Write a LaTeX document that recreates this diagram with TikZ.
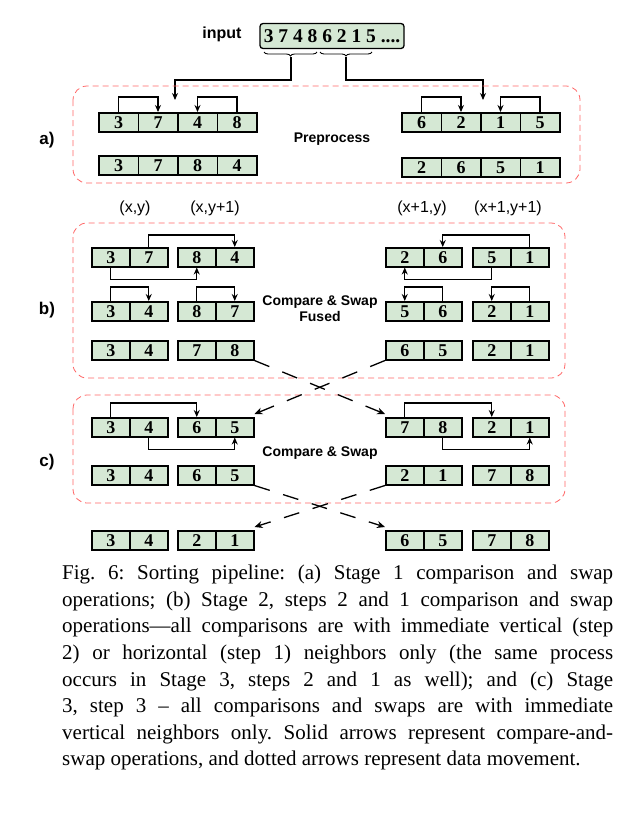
\documentclass[tikz,border=0pt]{standalone}
\usepackage{fontspec}
\setmainfont{Liberation Serif}
\newfontfamily\sansf{Liberation Sans}
\usetikzlibrary{decorations.pathreplacing,arrows.meta}
\definecolor{cellg}{HTML}{D5E8D4}
\definecolor{boxr}{HTML}{FF6666}
\frenchspacing
\tikzset{
 cell/.style={draw,fill=cellg,line width=1.5pt,inner sep=0,minimum height=19,anchor=north west,font=\fontsize{18}{18}\selectfont\bfseries},
 arr/.style={line width=1.1pt,-{Stealth[length=7pt,width=6pt]}},
 grp/.style={draw=boxr,dash pattern=on 6pt off 4pt,line width=0.8pt,rounded corners=14pt},
 lab/.style={font=\sansf\fontsize{14}{14}\selectfont\bfseries},
 coord/.style={font=\sansf\fontsize{16}{16}\selectfont},
 side/.style={font=\sansf\fontsize{17}{17}\selectfont\bfseries},
 mv/.style={line width=1.3pt,dash pattern=on 16pt off 14pt,-{Stealth[length=8pt,width=7pt]}},
}
\newcommand\mkrow[5]{\foreach \v [count=\i] in {#5}{\node[cell,minimum width=#4] (#1-\i) at ({#2+(\i-1)*#4},#3) {\v};}}
\begin{document}
\begin{tikzpicture}[x=1pt,y=-1pt]
\useasboundingbox (0,0) rectangle (643,828);
% input
\node[font=\sansf\fontsize{16}{16}\selectfont\bfseries] (inlab) at (222,34) {input};
\node[draw,line width=1.3pt,rounded corners=3pt,fill=cellg,minimum width=144,minimum height=25,inner sep=0,font=\fontsize{19.5}{19.5}\selectfont\bfseries] (inp) at (332,36) {3 7 4 8 6 2 1 5 ....};
\coordinate (bl1) at (264,52); \coordinate (bl2) at (317,52);
\coordinate (br1) at (320,52); \coordinate (br2) at (372,52);
\draw[decorate,decoration={brace,mirror,amplitude=4pt},line width=0.9pt] (bl1) -- (bl2);
\draw[decorate,decoration={brace,mirror,amplitude=4pt},line width=0.9pt] (br1) -- (br2);
\coordinate (tl) at (291,57); \coordinate (tr) at (346,57);
\coordinate (el) at (175,100); \coordinate (er) at (483,100);
\draw[arr] (tl) -- (291,80) -| (el);
\draw[arr] (tr) -- (346,80) -| (er);
% a
\draw[grp] (73,86) rectangle (580,183);
\node[side] (la) at (47,140) {a)};
\node[lab] (pre) at (332,139) {Preprocess};
\mkrow{a1}{98}{112}{39.5}{3,7,4,8}
\mkrow{a2}{98}{155}{39.5}{3,7,8,4}
\mkrow{a3}{401}{112}{39.5}{6,2,1,5}
\mkrow{a4}{401}{157}{39.5}{2,6,5,1}
\draw[arr] (a1-1.north) -- ++(0,-15) -| (a1-2.north);
\draw[arr] (a1-4.north) -- ++(0,-15) -| (a1-3.north);
\draw[arr] (a3-1.north) -- ++(0,-15) -| (a3-2.north);
\draw[arr] (a3-4.north) -- ++(0,-15) -| (a3-3.north);
% b
\node[coord] (c1) at (135,208) {(x,y)};
\node[coord] (c2) at (215,208) {(x,y+1)};
\node[coord] (c3) at (422,208) {(x+1,y)};
\node[coord] (c4) at (508,208) {(x+1,y+1)};
\draw[grp] (73,223) rectangle (565,378);
\node[side] (lb) at (47,310) {b)};
\node[lab,align=center] (cf) at (320,309) {Compare \& Swap\\[2pt]Fused};
\mkrow{b1}{91}{247}{38}{3,7}
\mkrow{b2}{177}{247}{38}{8,4}
\mkrow{b3}{385}{247}{38}{2,6}
\mkrow{b4}{472}{247}{38}{5,1}
\mkrow{b5}{91}{301}{38}{3,4}
\mkrow{b6}{177}{301}{38}{8,7}
\mkrow{b7}{385}{301}{38}{5,6}
\mkrow{b8}{472}{301}{38}{2,1}
\mkrow{b9}{91}{340}{38}{3,4}
\mkrow{b10}{177}{340}{38}{7,8}
\mkrow{b11}{385}{340}{38}{6,5}
\mkrow{b12}{472}{340}{38}{2,1}
\draw[arr] (b1-2.north) -- ++(0,-12) -| (b2-2.north);
\draw[arr] (b1-1.south) -- ++(0,12) -| (b2-1.south);
\draw[arr] (b4-2.north) -- ++(0,-12) -| (b3-2.north);
\draw[arr] (b4-1.south) -- ++(0,12) -| (b3-1.south);
\draw[arr] (b5-1.north) -- ++(0,-14) -| (b5-2.north);
\draw[arr] (b6-1.north) -- ++(0,-14) -| (b6-2.north);
\draw[arr] (b7-2.north) -- ++(0,-14) -| (b7-1.north);
\draw[arr] (b8-2.north) -- ++(0,-14) -| (b8-1.north);
% c
\draw[grp] (73,395) rectangle (565,503);
\node[side] (lc) at (47,462) {c)};
\node[lab] (cs) at (320,453) {Compare \& Swap};
\mkrow{c1}{91}{417}{38}{3,4}
\mkrow{c2}{177}{417}{38}{6,5}
\mkrow{c3}{385}{417}{38}{7,8}
\mkrow{c4}{472}{417}{38}{2,1}
\mkrow{c5}{91}{465}{38}{3,4}
\mkrow{c6}{177}{465}{38}{6,5}
\mkrow{c7}{385}{465}{38}{2,1}
\mkrow{c8}{472}{465}{38}{7,8}
\mkrow{d1}{91}{530}{38}{3,4}
\mkrow{d2}{177}{530}{38}{2,1}
\mkrow{d3}{385}{530}{38}{6,5}
\mkrow{d4}{472}{530}{38}{7,8}
\draw[arr] (c1-1.north) -- ++(0,-14) -| (c2-1.north);
\draw[arr] (c1-2.south) -- ++(0,12) -| (c2-2.south);
\draw[arr] (c3-1.north) -- ++(0,-14) -| (c4-1.north);
\draw[arr] (c3-2.south) -- ++(0,12) -| (c4-2.south);
\draw[mv] (b10-2.south east) -- ([yshift=3pt]c3-1.north west);
\draw[mv] (b11-1.south west) -- ([yshift=3pt]c2-2.north east);
\draw[mv] (c6-2.south east) -- ([yshift=3pt]d3-1.north west);
\draw[mv] (c7-1.south west) -- ([yshift=3pt]d2-2.north east);
% caption
\node[anchor=north west,inner sep=0,text width=551pt,align=justify,font=\fontsize{21}{26.6}\selectfont] (cap) at (62,565) {Fig. 6: Sorting pipeline: (a) Stage 1 comparison and swap\linebreak
operations; (b) Stage 2, steps 2 and 1 comparison and swap\linebreak
operations—all comparisons are with immediate vertical (step\linebreak
2) or horizontal (step 1) neighbors only (the same process\linebreak
occurs in Stage 3, steps 2 and 1 as well); and (c) Stage\linebreak
3, step 3 – all comparisons and swaps are with immediate\linebreak
vertical neighbors only. Solid arrows represent compare-and-\linebreak
swap operations, and dotted arrows represent data movement.};
\end{tikzpicture}
\end{document}
